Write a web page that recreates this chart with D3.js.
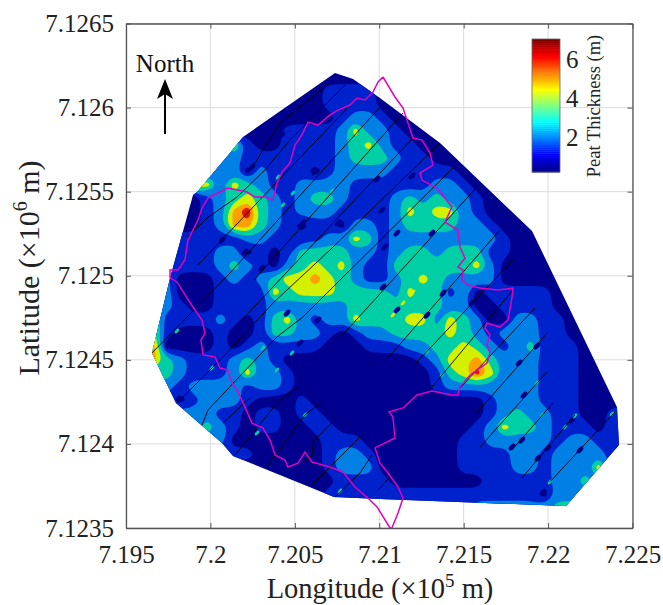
<!DOCTYPE html>
<html>
<head>
<meta charset="utf-8">
<script src="https://cdnjs.cloudflare.com/ajax/libs/d3/7.8.5/d3.min.js"></script>
<style>
    body { margin: 0; background: #fff; }
    text { font-family: "Liberation Serif", serif; fill: #222; }
</style>
</head>
<body>
<div id="chart"></div>
<script>
(function() {
    // all positions are metres east/north of the axes origin (719500, 7123500)
    var xTickLabels = ["7.195", "7.2", "7.205", "7.21", "7.215", "7.22", "7.225"];
    var yTickLabels = ["7.1235", "7.124", "7.1245", "7.125", "7.1255", "7.126", "7.1265"];
    var barTicks = [2, 4, 6];

    // contour levels (m) and the colour of each band
    var bandLimits = [0.2, 1.06, 1.93, 2.79, 3.65, 4.5, 5.4, 6.2];
    var bandColors = ["#00008f", "#0022cc", "#0080e5", "#00cfa5", "#d2f000", "#ffa000", "#e81000", "#8b0000"];
    var jetColors = ["#00008b", "#0000ff", "#0080ff", "#00ffff", "#80ff80", "#ffff00", "#ff8000", "#ff0000", "#800000"];

    // peat thickness (m) read on a grid: 80 m spacing, first row at north = 2760, first column at east = 0
    var cell = 80, gridTop = 2760;
    var a = 0.6, b = 1.5, c = 2.4, d = 3.2, e = 4.1, h = 4.8, f = 5, g = 5.8, p = 6.4;
    var peatRows = [
        [a,a,a,a,a,a,a,a,a,a, a,a,a,a,a,a,a,a,a,a, a,a,a,a,a,a,a,a,a,a, a,a,a,a,a,a,a,a],
        [a,a,a,a,a,a,a,a,a,a, a,a,a,a,a,a,a,a,a,a, a,a,a,a,a,a,a,a,a,a, a,a,a,a,a,a,a,a],
        [a,a,a,a,a,a,a,a,a,a, a,a,a,a,a,b,b,b,b,a, a,a,a,a,a,a,a,a,a,a, a,a,a,a,a,a,a,a],
        [a,a,a,a,a,a,a,a,a,a, a,a,a,a,a,b,b,b,b,a, a,a,a,a,a,a,a,a,a,a, a,a,a,a,a,a,a,a],
        [a,a,a,a,a,a,a,a,a,a, a,a,a,a,a,a,b,c,c,b, a,a,a,a,a,a,a,a,a,a, a,a,a,a,a,a,a,a],
        [a,a,a,a,a,a,a,a,a,a, a,a,b,b,b,b,c,e,c,c, b,a,a,a,a,a,a,a,a,a, a,a,a,a,a,a,a,a],
        [a,a,a,a,a,a,a,c,e,b, a,a,b,b,b,b,c,d,e,c, b,b,a,a,a,a,a,a,a,a, a,a,a,a,a,a,a,a],
        [a,a,a,a,a,a,a,b,c,b, b,b,b,b,b,b,c,d,d,d, c,b,b,a,a,a,a,a,a,a, a,a,a,a,a,a,a,a],
        [a,a,a,a,a,a,c,c,c,a, c,b,b,b,a,b,c,c,c,c, b,b,b,b,b,a,a,a,a,a, a,a,a,a,a,a,a,a],
        [a,a,a,a,a,e,e,c,e,d, c,b,b,c,c,c,c,b,b,b, b,b,b,c,c,b,a,a,a,a, a,a,a,a,a,a,a,a],
        [a,a,a,a,a,a,b,c,d,e, d,c,b,c,d,d,c,b,b,b, c,d,c,d,c,c,b,a,a,a, a,a,a,a,a,a,a,a],
        [a,a,a,a,a,a,b,c,h,p, d,c,b,c,c,c,b,b,b,b, c,e,d,e,e,c,b,a,a,a, a,a,a,a,a,a,a,a],
        [a,a,a,a,a,a,b,c,h,f, d,c,b,a,b,b,a,c,c,b, c,d,d,d,d,c,c,b,a,a, a,a,a,a,a,a,a,a],
        [b,b,b,b,b,b,b,b,b,c, c,b,b,b,b,c,c,e,d,b, c,c,c,c,c,c,c,c,b,a, a,a,a,a,a,a,a,a],
        [b,b,b,b,b,b,b,c,c,a, b,a,b,d,d,d,d,c,c,b, c,d,d,c,d,d,d,b,b,a, a,a,a,a,a,a,a,a],
        [b,b,b,b,b,b,b,c,d,c, b,a,c,d,e,d,e,c,b,b, d,d,d,d,d,d,e,c,a,a, a,a,a,a,a,a,a,a],
        [c,c,c,c,a,a,a,b,c,b, c,d,e,e,f,e,d,c,b,b, c,d,e,d,c,c,c,c,a,a, a,a,a,a,a,a,a,a],
        [d,d,d,c,a,a,a,b,b,b, b,e,d,e,e,e,d,d,d,d, c,e,d,d,b,c,a,b,b,b, b,b,a,a,a,a,a,a],
        [d,d,d,c,b,a,a,b,b,b, b,c,c,c,c,c,c,d,d,d, d,d,d,d,c,c,a,a,b,b, b,b,a,a,a,a,a,a],
        [e,e,e,b,b,b,b,c,b,a, b,d,e,c,b,c,c,e,d,d, d,e,e,c,e,d,c,a,a,c, c,b,b,a,a,a,a,a],
        [e,e,e,b,a,a,a,b,a,a, b,d,d,c,c,b,a,b,c,c, d,d,d,d,e,d,c,b,c,c, c,b,b,a,a,a,a,a],
        [f,f,f,a,a,a,a,b,a,b, c,b,b,b,b,a,a,a,b,b, b,c,c,d,d,e,d,c,b,c, d,b,b,b,a,a,a,a],
        [f,f,f,d,c,b,b,b,c,d, c,b,a,a,a,a,a,a,a,a, a,a,b,c,e,e,f,d,c,c, c,b,b,b,a,a,a,a],
        [d,d,d,d,c,b,b,b,c,e, c,c,b,a,a,a,a,a,a,a, a,a,a,b,d,e,g,e,c,c, c,b,b,b,a,a,a,a],
        [c,c,c,c,b,c,c,c,c,b, c,c,b,a,a,a,a,a,a,a, a,a,a,b,c,c,c,c,c,c, c,b,b,b,a,a,a,a],
        [b,b,b,b,a,b,c,c,c,b, a,a,a,b,a,a,a,a,a,a, a,a,a,a,a,a,a,b,c,c, c,b,b,b,a,a,a,a],
        [c,c,c,c,c,c,c,b,b,a, b,b,a,b,b,a,a,a,a,a, a,a,a,a,a,a,a,b,c,d, c,c,b,b,a,a,b,b],
        [c,c,c,c,c,c,d,c,b,a, b,b,a,a,b,b,a,a,a,a, a,a,a,a,a,a,b,c,e,d, d,c,b,b,b,a,b,b],
        [c,c,c,c,c,c,c,c,a,a, a,a,a,a,a,b,b,b,a,a, a,a,a,a,a,b,b,c,c,c, c,c,b,c,c,b,b,b],
        [b,b,b,b,b,b,b,b,b,b, a,a,a,a,a,b,c,c,b,a, a,a,a,a,a,b,b,b,b,c, c,b,c,c,c,c,b,b],
        [a,a,a,a,a,a,a,a,a,a, a,a,a,a,a,b,c,c,c,a, a,a,a,a,a,b,b,b,b,c, c,b,c,c,c,e,b,b],
        [a,a,a,a,a,a,a,a,a,a, a,a,a,a,a,a,b,b,b,b, a,a,a,a,a,a,a,b,b,b, b,b,c,c,d,c,c,c],
        [a,a,a,a,a,a,a,a,a,a, a,a,a,a,a,b,b,b,b,b, b,b,b,b,b,b,b,b,b,b, b,a,c,c,c,c,c,c],
        [b,b,b,b,b,b,b,b,b,b, b,b,b,b,b,b,b,b,b,b, b,b,b,b,b,b,c,c,c,c, c,c,d,d,d,d,d,d]
    ];

    // narrow contour eyes strung along the survey lines
    var lowSpots = [[746,2146],[1119,2117],[1487,2075],[1048,1814],[1256,1814],[705,1641],[569,1712],[871,1611],[805,1546],
        [924,2337],[1694,2093],[1516,1891],[1534,1671],[1605,1754],[1812,1754],[1522,1433],[1878,1397],[2097,1397],[2049,1338],
        [1783,1266],[1605,1296],[2328,981],[2434,1082],[2357,791],[2286,482],[2345,523],[2440,416],[2499,476],[2642,642],
        [2689,464],[2790,612],[2470,214],[954,1278],[1137,1237],[1031,1100]];
    var midSpots = [[900,2087],[989,1992],[1220,2004],[930,1921],[302,1171],[509,951],[894,939],[983,1041],[811,1070],
        [1060,672],[776,565],[1268,220],[1783,1046],[1872,910],[2600,601],[2659,666],[2878,678],[2511,274],[2434,862],[2464,672]];
    var highSpots = [[1753,1475],[1700,1403],[1641,1338],[1581,1266],[1741,1225],[2008,1070]];

    // outline of the mapped area
    var hull = [[1238,2705],[1345,2670],[1504,2557],[1860,2289],[2405,1766],[2908,719],[2920,494],[2606,131],
        [1504,172],[1232,184],[634,428],[569,505],[296,743],[154,1041],[261,1487],[397,1980],[421,1998],[616,2230],[693,2325]];

    // peatland boundary
    var boundary = [[1522,2682],[1493,2652],[1463,2592],[1416,2545],[1368,2557],[1327,2515],[1256,2485],[1208,2456],
        [1137,2396],[1078,2414],[1042,2337],[1001,2277],[971,2170],[924,2117],[894,2051],[871,1950],[823,1968],[764,1968],
        [717,1998],[604,2022],[545,1992],[486,1962],[450,1903],[426,1831],[367,1712],[349,1594],[308,1534],[261,1534],
        [261,1487],[302,1463],[361,1368],[397,1314],[450,1237],[468,1159],[444,1118],[456,1029],[527,1017],[557,951],
        [604,939],[628,862],[663,809],[705,719],[746,624],[811,595],[853,523],[883,434],[942,404],[959,363],[1019,386],
        [1060,452],[1102,392],[1208,363],[1285,333],[1356,244],[1433,178],[1487,125],[1564,0],[1575,0],[1611,89],[1641,178],
        [1611,244],[1552,327],[1504,386],[1475,476],[1593,535],[1581,660],[1558,690],[1641,714],[1724,791],[1812,815],
        [1931,791],[1966,791],[1978,838],[2038,910],[2138,981],[2156,1041],[2138,1088],[2156,1148],[2126,1189],[2138,1219],
        [2215,1195],[2263,1237],[2286,1368],[2292,1427],[2203,1415],[2097,1427],[2026,1445],[1990,1475],[1996,1534],
        [1966,1552],[2008,1605],[1978,1671],[1966,1772],[1889,1819],[1931,1909],[1842,2022],[1753,2069],[1741,2111],
        [1818,2158],[1801,2230],[1753,2307],[1700,2319],[1670,2408],[1641,2497],[1593,2563],[1522,2682]];

    // survey lines
    var surveyLines = [
        [[746,2141],[912,2408],[1208,2646]],
        [[367,1730],[480,1843],[657,1968],[823,2129],[971,2307],[1297,2634]],
        [[426,1564],[1368,2557]],
        [[154,1041],[616,1516],[1499,2497]],
        [[758,1475],[1641,2468]],
        [[675,1225],[1700,2319]],
        [[302,743],[598,1041],[871,1338],[1208,1653],[1860,2289]],
        [[450,612],[486,702],[693,922],[894,1136],[1048,1255],[1937,2141]],
        [[575,624],[734,773]],
        [[646,434],[894,743],[1019,838]],
        [[1256,1118],[2079,2028]],
        [[835,363],[1060,672],[1161,749]],
        [[1546,1005],[2215,1772]],
        [[1060,392],[1102,434],[1108,511],[1256,666]],
        [[1102,256],[1398,553]],
        [[1718,981],[2292,1594]],
        [[1238,184],[1386,327],[1457,434]],
        [[1812,838],[2292,1415]],
        [[1493,226],[1564,303]],
        [[1978,832],[2423,1308]],
        [[2067,672],[2494,1159]],
        [[2097,482],[2494,928]],
        [[2286,464],[2529,743]],
        [[2345,297],[2659,672]],
        [[2511,274],[2896,690]]
    ];

    var width = 663, height = 605;

    var xScale = d3.scaleLinear().domain([0, 3000]).range([126, 632.5]),
        yScale = d3.scaleLinear().domain([0, 3000]).range([528, 23.5]);

    var svg = d3.select("#chart").append("svg")
        .attr("width", width)
        .attr("height", height);

    var xTicks = d3.range(0, 3001, 500),
        yTicks = d3.range(0, 3001, 500);

    // grid
    svg.append("g").selectAll("line").data(xTicks).enter().append("line")
        .attr("x1", function(t) { return xScale(t); })
        .attr("x2", function(t) { return xScale(t); })
        .attr("y1", yScale(0)).attr("y2", yScale(3000))
        .attr("stroke", "#dcdcdc").attr("stroke-width", 1);
    svg.append("g").selectAll("line").data(yTicks).enter().append("line")
        .attr("y1", function(t) { return yScale(t); })
        .attr("y2", function(t) { return yScale(t); })
        .attr("x1", xScale(0)).attr("x2", xScale(3000))
        .attr("stroke", "#dcdcdc").attr("stroke-width", 1);

    // filled contours, clipped to the mapped area
    var toPoints = d3.line()
        .x(function(pt) { return xScale(pt[0]); })
        .y(function(pt) { return yScale(pt[1]); });

    svg.append("clipPath").attr("id", "hullClip")
        .append("path").attr("d", toPoints(hull) + "Z");

    var nCols = peatRows[0].length;
    var contours = d3.contours()
        .size([nCols, peatRows.length])
        .thresholds(bandLimits)(d3.merge(peatRows));

    // contour rings come out stepped on this coarse grid, so round them off
    var ringLine = d3.line()
        .x(function(pt) { return xScale((pt[0] - 0.5) * cell); })
        .y(function(pt) { return yScale(gridTop - (pt[1] - 0.5) * cell); })
        .curve(d3.curveBasisClosed);

    function contourPath(contour) {
        var out = "";
        contour.coordinates.forEach(function(polygon) {
            polygon.forEach(function(ring) {
                out += ringLine(ring.slice(0, -1));
            });
        });
        return out;
    }

    var map = svg.append("g").attr("clip-path", "url(#hullClip)");
    map.selectAll("path").data(contours).enter().append("path")
        .attr("d", contourPath)
        .attr("fill-rule", "evenodd")
        .attr("fill", function(t, i) { return bandColors[i]; });

    function drawSpots(spots, color, rx, ry) {
        map.append("g").selectAll("ellipse").data(spots).enter().append("ellipse")
            .attr("transform", function(s) {
                return "translate(" + xScale(s[0]) + "," + yScale(s[1]) + ") rotate(-47)";
            })
            .attr("rx", rx).attr("ry", ry)
            .attr("fill", color);
    }
    drawSpots(lowSpots, bandColors[0], 4.2, 2.3);
    drawSpots(midSpots, bandColors[3], 3, 1.5);
    drawSpots(highSpots, bandColors[4], 3, 1.5);

    // survey lines and boundary
    svg.append("g").selectAll("path").data(surveyLines).enter().append("path")
        .attr("d", toPoints)
        .attr("fill", "none")
        .attr("stroke", "#000")
        .attr("stroke-opacity", 0.9)
        .attr("stroke-width", 1);

    svg.append("path")
        .attr("d", toPoints(boundary))
        .attr("fill", "none")
        .attr("stroke", "#e000c0")
        .attr("stroke-width", 1.5);

    // axes
    var axisBottom = d3.axisBottom(xScale).tickValues(xTicks).tickSizeInner(-5).tickSizeOuter(0)
        .tickPadding(17).tickFormat(function(t, i) { return xTickLabels[i]; });
    var axisLeft = d3.axisLeft(yScale).tickValues(yTicks).tickSizeInner(-5).tickSizeOuter(0)
        .tickPadding(12).tickFormat(function(t, i) { return yTickLabels[i]; });
    var axisTop = d3.axisTop(xScale).tickValues(xTicks).tickSizeInner(-5).tickSizeOuter(0).tickFormat("");
    var axisRight = d3.axisRight(yScale).tickValues(yTicks).tickSizeInner(-5).tickSizeOuter(0).tickFormat("");

    svg.append("g").attr("transform", "translate(0," + yScale(0) + ")").call(axisBottom);
    svg.append("g").attr("transform", "translate(" + xScale(0) + ",0)").call(axisLeft);
    svg.append("g").attr("transform", "translate(0," + yScale(3000) + ")").call(axisTop);
    svg.append("g").attr("transform", "translate(" + xScale(3000) + ",0)").call(axisRight);

    svg.selectAll(".domain").attr("stroke", "#555").attr("stroke-width", 1.3);
    svg.selectAll(".tick line").attr("stroke", "#555").attr("stroke-width", 1);
    svg.selectAll(".tick text").style("font-family", '"Liberation Serif", serif').style("font-size", "25px").attr("fill", "#222");

    // axis titles
    var xTitle = svg.append("text")
        .attr("x", 380).attr("y", 598)
        .attr("text-anchor", "middle")
        .style("font-size", "28.5px");
    xTitle.append("tspan").text("Longitude (\u00d710");
    xTitle.append("tspan").text("5").attr("dy", -11).style("font-size", "19px");
    xTitle.append("tspan").text(" m)").attr("dy", 11);

    var yTitle = svg.append("text")
        .attr("transform", "translate(39,268) rotate(-90)")
        .attr("text-anchor", "middle")
        .style("font-size", "30px");
    yTitle.append("tspan").text("Latitude (\u00d710");
    yTitle.append("tspan").text("6").attr("dy", -12).style("font-size", "20px");
    yTitle.append("tspan").text(" m)").attr("dy", 12);

    // north arrow
    svg.append("text")
        .attr("x", 165).attr("y", 72)
        .attr("text-anchor", "middle")
        .style("font-size", "25px")
        .style("fill", "#111")
        .text("North");
    svg.append("line")
        .attr("x1", 165).attr("x2", 165)
        .attr("y1", 134).attr("y2", 92)
        .attr("stroke", "#000").attr("stroke-width", 2);
    svg.append("path")
        .attr("d", "M165,79L173,99L165,94L157,99Z")
        .attr("fill", "#000");

    // colour bar
    var barScale = d3.scaleLinear().domain([0.2, 7.1]).range([172, 39]);
    var jetScale = d3.scaleLinear()
        .domain(jetColors.map(function(col, i) { return i / (jetColors.length - 1); }))
        .range(jetColors);
    var barSteps = d3.range(0, 64);
    var stepHeight = (172 - 39) / 64;

    svg.append("g").selectAll("rect").data(barSteps).enter().append("rect")
        .attr("x", 532).attr("width", 28)
        .attr("y", function(s) { return 172 - (s + 1) * stepHeight; })
        .attr("height", stepHeight + 0.5)
        .attr("fill", function(s) { return jetScale(s / 63); });
    svg.append("rect")
        .attr("x", 532).attr("y", 39).attr("width", 28).attr("height", 133)
        .attr("fill", "none").attr("stroke", "#666").attr("stroke-width", 0.8);

    svg.append("g").selectAll("text").data(barTicks).enter().append("text")
        .attr("x", 566)
        .attr("y", function(t) { return barScale(t); })
        .attr("dy", "0.33em")
        .style("font-size", "25px")
        .text(function(t) { return t; });

    svg.append("text")
        .attr("transform", "translate(600,106) rotate(-90)")
        .attr("text-anchor", "middle")
        .style("font-size", "18.5px")
        .text("Peat Thickness (m)");
})();
</script>
</body>
</html>
